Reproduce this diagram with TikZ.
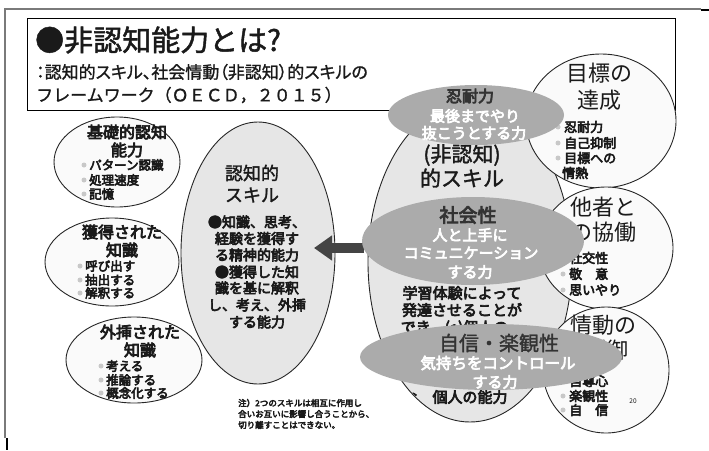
\documentclass[tikz,border=0pt]{standalone}
\usepackage{fontspec}
\usetikzlibrary{shapes.geometric,arrows.meta}
\newfontfamily\jp{Noto Sans CJK JP}
\newfontfamily\jpm[FakeBold=1.6]{Noto Sans CJK JP}
\newfontfamily\jpb[FakeBold=4.5]{Noto Sans CJK JP}
\newfontfamily\jpp[FakeBold=1.2,RawFeature=+palt]{Noto Sans CJK JP}
\newfontfamily\jpq[FakeBold=1.2]{Noto Sans CJK JP}
\newcommand\fsz[1]{\fontsize{#1}{#1}\selectfont}
\definecolor{ovgray}{HTML}{ABABAB}
\definecolor{bigfill}{HTML}{E6E6E6}
\definecolor{smfill}{HTML}{FAFAFA}
\definecolor{arrgray}{HTML}{444444}
\definecolor{bulgray}{HTML}{C8C8C8}
\definecolor{framegray}{HTML}{7A7A7A}
\definecolor{txt}{HTML}{1A1A1A}
\definecolor{ovtxt}{HTML}{333333}
\tikzset{
  ell/.style={ellipse, draw=black!85, line width=0.9pt, inner sep=0pt},
  smell/.style={ell, fill=smfill},
  bigell/.style={ell, fill=bigfill},
  gov/.style={ellipse, fill=ovgray, draw=none, inner sep=0pt},
  bul/.style={circle, fill=bulgray, inner sep=0pt, minimum size=5pt},
  lt/.style={inner sep=0pt, text=txt},
  ttl/.style={lt, font=\jpm\fsz{29}},
  sub/.style={lt, font=\jpp\fsz{17}},
  sub2/.style={lt, font=\jpq\fsz{17}},
  lhead/.style={lt, font=\jpb\fsz{16}},
  litem/.style={lt, anchor=west, font=\jpb\fsz{12.5}},
  chead/.style={lt, font=\jpm\fsz{18}},
  cbody/.style={lt, font=\jpb\fsz{14}},
  shead/.style={lt, font=\jpm\fsz{21}},
  sbody/.style={lt, font=\jpb\fsz{15}},
  rhead/.style={lt, font=\jp\fsz{22}},
  ritem/.style={lt, anchor=west, font=\jpb\fsz{13}},
  ovdark/.style={inner sep=0pt, text=ovtxt},
  ovwhite/.style={inner sep=0pt, text=white, font=\jpb\fsz{15}},
  note/.style={lt, anchor=west, font=\jpb\fsz{8.5}},
}
\begin{document}
\begin{tikzpicture}[x=1pt,y=-1pt]
\useasboundingbox (0,0) rectangle (709,450);
% outer frame lines
\draw[framegray, line width=2pt] (5,438) -- (5,9) -- (701,9);
\draw[black, line width=2.5pt] (701,10) -- (709,10);
\draw[black, line width=2.5pt] (7,438) -- (7,450);
% title box
\node[draw=black, line width=1pt, minimum width=648pt, minimum height=92pt, inner sep=0pt] (tbox) at (351,64) {};
\node[ttl, anchor=west] (t1) at (35,40) {●非認知能力とは?};
\node[sub, anchor=west] (t2) at (36,72) {：認知的スキル、社会情動（非認知）的スキルの};
\node[sub2, anchor=west] (t3) at (36,95) {フレームワーク（ＯＥＣＤ，２０１５）};

% cognitive skills big ellipse
\node[bigell, minimum width=154pt, minimum height=262pt] (cog) at (258,253) {};
\node[chead] (cogh1) at (252,173) {認知的};
\node[chead] (cogh2) at (252,195) {スキル};
\node[cbody] (cb1) at (257,222) {●知識、思考、};
\node[cbody] (cb2) at (257,238.5) {経験を獲得す};
\node[cbody] (cb3) at (257,255) {る精神的能力};
\node[cbody] (cb4) at (257,272) {●獲得した知};
\node[cbody] (cb5) at (257,288) {識を基に解釈};
\node[cbody] (cb6) at (257,305) {し、考え、外挿};
\node[cbody] (cb7) at (257,322) {する能力};

% left small ellipses
\node[smell, minimum width=126pt, minimum height=90pt] (e1) at (117,162) {};
\node[lhead] (e1h1) at (127,132) {基礎的認知};
\node[lhead] (e1h2) at (127,150) {能力};
\node[bul] (e1b1) at (84,165) {};
\node[bul] (e1b2) at (84,180) {};
\node[bul] (e1b3) at (84,194) {};
\node[litem] (e1i1) at (89,165) {パターン認識};
\node[litem] (e1i2) at (89,180) {処理速度};
\node[litem] (e1i3) at (89,194) {記憶};

\node[smell, minimum width=134pt, minimum height=88pt] (e2) at (112,262) {};
\node[lhead] (e2h1) at (122,232) {獲得された};
\node[lhead] (e2h2) at (122,250) {知識};
\node[bul] (e2b1) at (80,266) {};
\node[bul] (e2b2) at (80,280) {};
\node[bul] (e2b3) at (80,293) {};
\node[litem] (e2i1) at (85,266) {呼び出す};
\node[litem] (e2i2) at (85,280) {抽出する};
\node[litem] (e2i3) at (85,293) {解釈する};

\node[smell, minimum width=136pt, minimum height=86pt] (e3) at (134,360) {};
\node[lhead] (e3h1) at (140,332) {外挿された};
\node[lhead] (e3h2) at (140,350) {知識};
\node[bul] (e3b1) at (101,366) {};
\node[bul] (e3b2) at (101,380) {};
\node[bul] (e3b3) at (101,393) {};
\node[litem] (e3i1) at (106,366) {考える};
\node[litem] (e3i2) at (106,380) {推論する};
\node[litem] (e3i3) at (106,393) {概念化する};

% socio-emotional big ellipse
\node[bigell, minimum width=204pt, minimum height=320pt] (soc) at (470,262) {};
\begin{scope}
\clip (470,262) ellipse [x radius=101, y radius=159];
\node[shead] (sh1) at (462,155) {(非認知)};
\node[shead] (sh2) at (462,178) {的スキル};
\node[sbody] (sb1) at (462,293) {学習体験によって};
\node[sbody] (sb2) at (462,310) {発達させることが};
\node[sbody] (sb3) at (462,328) {でき、(e)個人の一};
\node[sbody] (sb4) at (455,397) {な　個人の能力};
\end{scope}

% right circles
\node[smell, minimum width=150pt, minimum height=134pt] (r1) at (601,121) {};
\node[rhead] (r1h1) at (599,73) {目標の};
\node[rhead] (r1h2) at (599,100) {達成};
\node[bul] (r1b1) at (558,127) {};
\node[bul] (r1b2) at (558,143) {};
\node[bul] (r1b3) at (558,158) {};
\node[ritem] (r1i1) at (564,127) {忍耐力};
\node[ritem] (r1i2) at (564,143) {自己抑制};
\node[ritem] (r1i3) at (564,158) {目標への};
\node[ritem] (r1i4) at (562,173) {情熱};

\node[smell, minimum width=134pt, minimum height=122pt] (r2) at (606,248) {};
\node[rhead] (r2h1) at (603,207) {他者と};
\node[rhead] (r2h2) at (603,232) {の協働};
\node[bul] (r2b1) at (563,258) {};
\node[bul] (r2b2) at (563,274) {};
\node[bul] (r2b3) at (563,290) {};
\node[ritem] (r2i1) at (569,258) {社交性};
\node[ritem] (r2i2) at (569,274) {敬　意};
\node[ritem] (r2i3) at (569,290) {思いやり};

\node[smell, minimum width=126pt, minimum height=126pt] (r3) at (606,370) {};
\node[rhead] (r3h1) at (603,325) {情動の};
\node[rhead] (r3h2) at (606,350) {制御};
\node[bul] (r3b1) at (563,381) {};
\node[bul] (r3b2) at (563,396) {};
\node[bul] (r3b3) at (563,410) {};
\node[ritem] (r3i1) at (569,381) {自尊心};
\node[ritem] (r3i2) at (569,396) {楽観性};
\node[ritem] (r3i3) at (569,410) {自　信};
\node[lt, font=\jp\fsz{6.5}] (pg) at (633,401) {20};

% arrow
\coordinate (arrS) at (364,248);
\coordinate (arrT) at (314,248);
\draw[arrgray, line width=10pt, -{Triangle[width=24pt,length=18pt]}] (arrS) -- (arrT);

% gray ovals
\node[gov, minimum width=176pt, minimum height=60pt] (g1) at (476,115) {};
\node[ovdark, font=\jpb\fsz{16}] (g1h) at (470,96) {忍耐力};
\node[ovwhite] (g1a) at (475,116) {最後までやり};
\node[ovwhite] (g1b) at (474,133) {抜こうとする力};

\node[gov, minimum width=222pt, minimum height=88pt] (g2) at (473,241) {};
\node[ovdark, font=\jpb\fsz{19}] (g2h) at (468,215) {社会性};
\node[ovwhite] (g2a) at (470,235) {人と上手に};
\node[ovwhite] (g2b) at (471,253) {コミュニケーション};
\node[ovwhite] (g2c) at (470,272) {する力};

\node[gov, minimum width=262pt, minimum height=66pt] (g3) at (491,357) {};
\node[ovdark, font=\jpm\fsz{20}] (g3h) at (499,343) {自信・楽観性};
\node[ovwhite, font=\jpb\fsz{15.5}] (g3a) at (498,363) {気持ちをコントロール};
\node[ovwhite] (g3b) at (495,382) {する力};

% note
\node[note] (n1) at (238,403) {注）2つのスキルは相互に作用し};
\node[note] (n2) at (238,414) {合いお互いに影響し合うことから、};
\node[note] (n3) at (238,425) {切り離すことはできない。};
\end{tikzpicture}
\end{document}
